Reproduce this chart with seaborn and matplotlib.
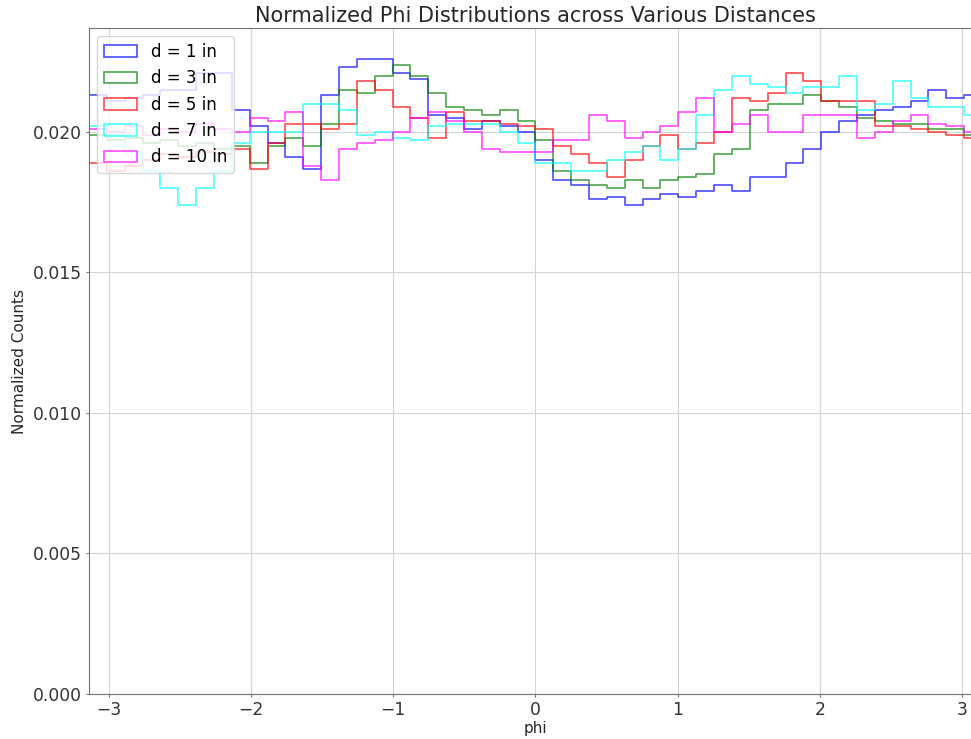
import numpy as np
import pandas as pd
import matplotlib
matplotlib.use('Agg')
import matplotlib.pyplot as plt
import seaborn as sns
from matplotlib.patches import Patch

# 50 bins from -pi to pi, normalized counts per bin
n_bins = 50
distances = ['d = 1 in', 'd = 3 in', 'd = 5 in', 'd = 7 in', 'd = 10 in']
colors = ['blue', 'green', 'red', 'cyan', 'magenta']

d1 = [0.0213, 0.0211, 0.0212, 0.0213, 0.0215, 0.0215, 0.0221, 0.0221, 0.0208, 0.0202,
      0.0196, 0.0191, 0.0187, 0.0213, 0.0223, 0.0226, 0.0226, 0.0221, 0.0219, 0.0206,
      0.0205, 0.0201, 0.0204, 0.0202, 0.0200, 0.0190, 0.0183, 0.0181, 0.0176, 0.0177,
      0.0174, 0.0176, 0.0178, 0.0177, 0.0179, 0.0181, 0.0179, 0.0184, 0.0184, 0.0189,
      0.0194, 0.0200, 0.0204, 0.0206, 0.0208, 0.0209, 0.0211, 0.0215, 0.0212, 0.0213]
d3 = [0.0199, 0.0197, 0.0198, 0.0196, 0.0197, 0.0195, 0.0196, 0.0194, 0.0195, 0.0189,
      0.0195, 0.0198, 0.0195, 0.0203, 0.0215, 0.0214, 0.0220, 0.0224, 0.0220, 0.0214,
      0.0209, 0.0208, 0.0206, 0.0208, 0.0204, 0.0197, 0.0186, 0.0183, 0.0181, 0.0180,
      0.0183, 0.0180, 0.0183, 0.0184, 0.0185, 0.0192, 0.0194, 0.0208, 0.0210, 0.0210,
      0.0213, 0.0211, 0.0209, 0.0205, 0.0204, 0.0203, 0.0203, 0.0201, 0.0201, 0.0199]
d5 = [0.0189, 0.0186, 0.0188, 0.0190, 0.0192, 0.0191, 0.0193, 0.0192, 0.0194, 0.0187,
      0.0196, 0.0203, 0.0203, 0.0201, 0.0203, 0.0218, 0.0215, 0.0209, 0.0205, 0.0198,
      0.0207, 0.0204, 0.0204, 0.0203, 0.0202, 0.0201, 0.0195, 0.0192, 0.0189, 0.0184,
      0.0190, 0.0195, 0.0199, 0.0194, 0.0196, 0.0200, 0.0212, 0.0211, 0.0214, 0.0221,
      0.0218, 0.0211, 0.0211, 0.0211, 0.0202, 0.0202, 0.0201, 0.0200, 0.0199, 0.0198]
d7 = [0.0202, 0.0199, 0.0193, 0.0186, 0.0180, 0.0174, 0.0180, 0.0186, 0.0196, 0.0200,
      0.0200, 0.0200, 0.0210, 0.0210, 0.0208, 0.0199, 0.0200, 0.0198, 0.0197, 0.0202,
      0.0203, 0.0203, 0.0203, 0.0200, 0.0196, 0.0189, 0.0189, 0.0186, 0.0186, 0.0190,
      0.0193, 0.0195, 0.0190, 0.0194, 0.0206, 0.0215, 0.0220, 0.0217, 0.0216, 0.0214,
      0.0216, 0.0216, 0.0220, 0.0208, 0.0210, 0.0218, 0.0212, 0.0209, 0.0209, 0.0206]
d10 = [0.0201, 0.0200, 0.0202, 0.0199, 0.0201, 0.0200, 0.0203, 0.0201, 0.0200, 0.0205,
       0.0204, 0.0207, 0.0188, 0.0183, 0.0194, 0.0196, 0.0197, 0.0200, 0.0205, 0.0207,
       0.0204, 0.0200, 0.0194, 0.0193, 0.0193, 0.0193, 0.0197, 0.0197, 0.0206, 0.0204,
       0.0198, 0.0200, 0.0202, 0.0207, 0.0212, 0.0200, 0.0203, 0.0206, 0.0200, 0.0200,
       0.0206, 0.0206, 0.0206, 0.0198, 0.0200, 0.0204, 0.0206, 0.0203, 0.0202, 0.0200]

series = [d1, d3, d5, d7, d10]

edges = np.linspace(-np.pi, np.pi, n_bins + 1)
centers = (edges[:-1] + edges[1:]) / 2

fig = plt.figure(figsize=(9.71, 7.39), dpi=100)
# the reference is cut off on the right, so the axes run past the figure edge
ax = fig.add_axes([0.0916, 0.0609, 0.9197, 0.9012])

for vals, c, lab in zip(series, colors, distances):
    df = pd.DataFrame({'phi': centers, 'w': vals})
    sns.histplot(data=df, x='phi', weights='w', bins=n_bins, binrange=(-np.pi, np.pi),
                 element='step', fill=False, color=c, alpha=0.7, linewidth=1.2, ax=ax)

handles = [Patch(facecolor='none', edgecolor=c, alpha=0.7, linewidth=1.2, label=l)
           for c, l in zip(colors, distances)]
ax.legend(handles=handles, loc='upper left', fontsize=12)

ax.set_xlim(-np.pi, np.pi)
ax.set_ylim(0, 0.0237)
ax.set_yticks([0.0, 0.005, 0.010, 0.015, 0.020])
ax.yaxis.set_major_formatter(matplotlib.ticker.FormatStrFormatter('%.3f'))
ax.tick_params(labelsize=12.3, length=2.2, pad=3, color='0.45', labelcolor='0.2')
for s in ax.spines.values():
    s.set_color('0.45')
ax.grid(True, color='#d4d4d4', linewidth=0.8)
ax.set_axisbelow(True)
ax.set_xlabel('phi', fontsize=11, labelpad=1, color='0.15')
ax.set_ylabel('Normalized Counts', fontsize=11, color='0.15')
ax.set_title('Normalized Phi Distributions across Various Distances', fontsize=15,
             color='0.15', pad=4)

plt.savefig('out.png', dpi=100)
